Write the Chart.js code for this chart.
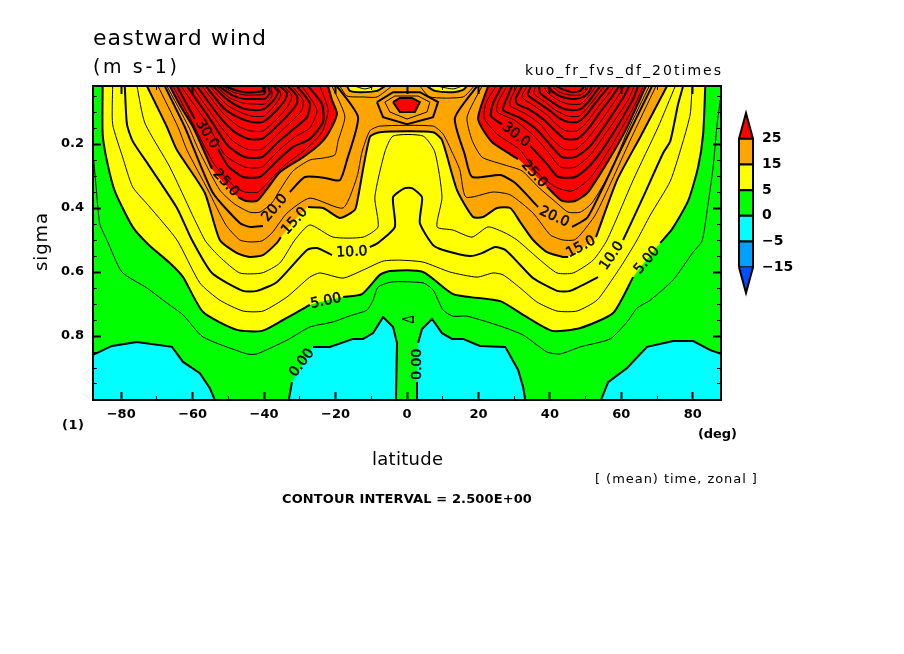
<!DOCTYPE html>
<html><head><meta charset="utf-8">
<style>html,body{margin:0;padding:0;background:#fff;overflow:hidden}
#main{position:absolute;left:0;top:0}#bar{position:absolute;left:735px;top:100px}</style>
<script src="https://cdn.jsdelivr.net/npm/chart.js@4"></script></head>
<body><canvas id="main" width="904" height="654"></canvas><canvas id="bar" width="75" height="210"></canvas>
<script>
// axes
const latMin=-87.9, latMax=87.9, sigmaTop=0.01875, sigmaBottom=1.0;
const latMajor=[-80,-60,-40,-20,0,20,40,60,80];
const latLabels=['−80','−60','−40','−20','0','20','40','60','80'];
const latMinor=[-70,-50,-30,-10,10,30,50,70];
const sigmaMajor=[0.2,0.4,0.6,0.8];
const sigmaLabels=['0.2','0.4','0.6','0.8'];
const sigmaMinor=[0.05,0.1,0.15,0.25,0.3,0.35,0.45,0.5,0.55,0.65,0.7,0.75,0.85,0.9,0.95];
// colour key
const keyColors=['#0050ff','#00a0ff','#00ffff','#00ff00','#ffff00','#ffa500','#ff0000'];
const keyLabels=['','−15','−5','0','5','15','25',''];
// contours: [latitude, sigma]; null = break for an inline label
const c0a=[[-87.9,.859],[-82.6,.831],[-75.6,.819],[-65.8,.834],[-62.7,.881],[-58,.916],[-55.2,.963],[-53.8,1]];
const c0b=[[-33.1,1],[-32.2,.944],null,[-26.3,.834],[-21.6,.834],[-15.1,.809],[-12.3,.809],[-9.5,.791],[-6.7,.741],[-3.9,.772],[-2.8,.822],[-3.1,1]];
const c0c=[[2.8,1],[2.8,.944],null,[3.1,.822],[4.2,.778],[7,.747],[9.8,.791],[12.6,.809],[15.7,.809],[20.4,.831],[27.5,.834],[31.1,.906],[32.5,.959],[33.1,1]];
const c0d=[[54.3,1],[56.3,.944],[61.6,.9],[67.2,.834],[74.5,.816],[80.1,.816],[84.9,.844],[87.9,.856]];
const c2t=[[-1.4,.747],[1.7,.738],[1.7,.759],[-1.4,.747]];
const c2=[[-87.7,.25],[-87.1,.325],[-86,.45],[-84,.5],[-79.8,.6],[-72.8,.65],[-67.2,.697],[-62.7,.734],[-57.1,.803],[-44.8,.856],[-42,.856],[-33.6,.813],[-27.2,.772],[-20.7,.756],[-16,.737],[-11.2,.719],[-9.5,.688],[-8.1,.647],[-4.2,.631],[4.5,.634],[7.3,.656],[10.1,.719],[12.9,.738],[16.8,.738],[26.1,.769],[32.5,.797],[39.2,.85],[42.9,.856],[48.5,.834],[56.9,.809],[61.6,.756],[64.4,.713],[68.1,.688],[74.5,.625],[80.1,.538],[82.6,.503],[84,.409],[85.7,.272],[86.8,.138],[87.7,.063]];
const c5=[[-85.2,.019],[-85.2,.169],[-84,.253],[-81.8,.347],[-76.8,.459],[-72.5,.513],[-66.4,.572],[-62.7,.616],[-57.1,.725],[-47.6,.781],[-40.6,.784],[-34.7,.75],[-27.2,.703],null,[-17.9,.678],[-12.6,.669],[-7.6,.609],[-4.8,.597],[4.5,.6],[12.9,.669],[26.1,.691],[32.5,.734],[40.6,.784],[48.5,.775],[57.7,.728],[63.3,.616],null,[70.9,.509],[74.2,.466],[78.7,.378],[81.5,.272],[82.9,.169],[83.5,.019]];
const c7=[[-82.4,.019],[-82.4,.138],[-79.6,.241],[-76.8,.334],[-72,.397],[-64.4,.5],[-58,.634],[-52.4,.688],[-45.9,.722],[-40.3,.722],[-33.6,.678],[-27.2,.616],[-24.4,.603],[-17.9,.619],[-12.3,.594],[-6.7,.566],[-2,.563],[4.5,.569],[12,.6],[19.6,.616],[24.1,.603],[26.9,.609],[31.7,.65],[36.4,.694],[42,.722],[47.6,.722],[53.2,.688],[57.7,.619],[60.5,.572],[64.4,.5],[68.1,.422],[73.7,.316],[77.3,.191],[79.3,.106],[79.8,.019]];
const c10=[[-79,.019],[-78.4,.138],[-76.8,.191],[-72.5,.263],[-64.4,.4],[-60.2,.5],[-54.6,.603],[-45.9,.659],[-42,.659],[-36.4,.631],[-28,.531],[-25.2,.525],[-21,.547],null,[-10.4,.522],[-8.1,.509],[-3.4,.459],[-3.9,.366],[-.6,.338],[1.4,.338],[4.2,.366],[3.6,.447],[7.3,.516],[10.1,.531],[17.6,.55],[21,.541],[24.7,.522],[27.5,.531],[31.7,.578],[35.3,.619],[42,.659],[45.7,.659],[53.5,.616],null,[60.5,.5],[66.1,.366],[71.7,.228],[73.7,.191],[75.9,.075],[77.3,.019]];
const c12=[[-75.6,.019],[-73.4,.134],[-66.4,.272],[-56.6,.5],[-52.4,.553],[-46.8,.603],[-40.6,.603],[-35.6,.572],[-31.4,.5],[-27.2,.453],[-20.7,.491],[-12.3,.491],[-8.1,.459],[-9,.366],[-6.2,.225],[-3.9,.175],[4.5,.175],[7.8,.225],[9.8,.366],[8.4,.459],[12.9,.469],[18.2,.491],[22.7,.459],[27.5,.478],[30.8,.5],[37.3,.563],[42,.603],[46.5,.603],[52.1,.563],[56,.5],[63.3,.313],[70.3,.147],[75.1,.019]];
const c12pL=[[-14.6,.019],[-11.8,.028],[-9,.019]];
const c12pR=[[8.4,.019],[12.9,.028],[15.4,.019]];
const c15=[[-72.8,.019],[-67.2,.147],[-64.4,.219],[-56.6,.353],[-52.4,.5],[-47.6,.541],[-44,.553],[-40.3,.547],[-36.4,.509],[-35.3,.491],null,[-27.7,.397],[-23.5,.4],[-18.8,.431],[-14.6,.406],[-13.7,.366],[-10.4,.178],[-7.6,.163],[7.3,.163],[9.8,.188],[14,.344],[18.5,.428],[21.3,.428],[25.2,.4],[28.9,.4],[31.7,.444],[35.3,.5],[39.2,.538],[43.7,.553],[45.1,.553],null,[52.9,.491],[58.8,.313],[65.3,.178],[72.8,.019]];
const c15pL=[[-16.8,.019],[-16,.034],[-13.2,.038],[-8.4,.034],[-6.2,.019]];
const c15pR=[[5.6,.019],[7.8,.034],[12.9,.038],[15.7,.031],[16.8,.019]];
const c17=[[-69.7,.019],[-64.1,.147],[-61.6,.219],[-55.7,.344],[-50.7,.453],[-46.8,.5],[-44,.506],[-40.6,.503],[-37.8,.478],[-33.6,.416],[-27.2,.369],[-17.9,.4],[-14,.303],[-12.6,.225],[-10.4,.159],[-7.6,.144],[7.3,.144],[10.1,.169],[12.6,.225],[14.8,.281],[16.5,.366],[24.1,.35],[28.9,.359],[35.3,.416],[40.1,.484],[43.7,.5],[46.8,.5],[48.5,.484],[52.7,.422],[57.4,.313],[62.5,.188],[69.7,.019]];
const c17pL=[[-18.8,.019],[-16.8,.05],[-12.3,.053],[-8.4,.053],[-4.2,.019]];
const c17pR=[[3.6,.019],[6.4,.053],[15.7,.053],[18.8,.019]];
const c20L=[[-67.8,.019],[-62.2,.147],[-59.9,.209],[-54.3,.353],[-46.8,.447],[-44,.459],[-40.3,.456],null,[-32.8,.35],[-28.6,.303],[-23,.306],[-18.8,.313],[-16.8,.25],[-13.7,.116],[-19.6,.019]];
const c20R=[[19.6,.019],[13.4,.119],[16.2,.234],[18.2,.303],[26.1,.297],[30.3,.322],[36.7,.397],null,[46.2,.459],[50.4,.431],[54.1,.353],[59.8,.219],[68.6,.019]];
const c20H=[[-8.4,.069],[-6.7,.116],[0,.138],[7.3,.116],[8.7,.069],[3.6,.038],[-3.9,.038],[-8.4,.069]];
const c22L=[[-67.2,.019],[-61.1,.147],[-58.3,.219],[-52.4,.344],[-48.2,.388],[-44,.413],[-41.2,.413],[-37.8,.384],[-35.6,.344],[-31.9,.284],[-27.2,.25],[-23.5,.244],[-20.2,.234],[-19.3,.191],[-17.4,.113],[-21,.019]];
const c22R=[[21,.019],[16.8,.116],[18.2,.188],[21,.241],[26.6,.263],[32.2,.284],[36.7,.334],[42.3,.388],[45.1,.413],[48.5,.413],[51.8,.384],[56.9,.288],[61.9,.156],[67.8,.019]];
const c22H=[[-6.2,.069],[-4.8,.1],[0,.122],[5.6,.1],[6.4,.069],[3.1,.05],[-3.4,.05],[-6.2,.069]];
const c25L=[[-66.4,.019],[-63.3,.084],[-59.9,.147],[-54.6,.278],null,[-47.3,.366],[-45.1,.378],[-42,.378],[-39.2,.341],[-35.6,.288],[-29.1,.241],[-24.4,.2],[-22.1,.169],[-19.6,.106],[-21,.063],[-22.1,.019]];
const c25R=[[22.7,.019],[19.9,.122],[23.8,.194],[31.1,.247],null,[39.2,.334],[43.4,.378],[47.1,.378],[50.7,.35],[56.3,.253],[61.1,.159],[66.9,.019]];
const c25H=[[-3.9,.069],[-2,.1],[2.2,.1],[3.6,.069],[1.4,.056],[-2,.056],[-3.9,.069]];
const c27L=[[-65.5,.019],[-60.2,.131],[-53.8,.266],[-48.2,.334],[-45.4,.35],[-41.7,.35],[-38.4,.313],[-34.2,.266],[-28.6,.219],[-23.8,.163],[-22.1,.094],[-24.4,.019]];
const c30L=[[-64.4,.019],[-59.4,.122],null,[-52.9,.216],[-50.1,.269],[-45.9,.303],[-41.2,.303],[-36.4,.253],[-31.9,.209],[-27.2,.184],[-23.5,.131],[-23.8,.075],[-27.7,.019]];
const c32L=[[-63.3,.019],[-55.7,.14],[-51,.234],[-45.4,.272],[-40.6,.272],[-36.4,.225],[-31.4,.178],[-27.2,.15],[-25.2,.094],[-29.4,.019]];
const c35L=[[-61.6,.019],[-54.6,.131],[-50.1,.206],[-45.4,.241],[-40.6,.241],[-36.1,.194],[-31.4,.15],[-28,.116],[-27.2,.072],[-30.8,.019]];
const c37L=[[-60.2,.019],[-53.5,.125],[-49,.188],[-44.8,.216],[-40.6,.216],[-36.1,.169],[-31.9,.125],[-29.4,.094],[-29.1,.063],[-32.2,.019]];
const c40L=[[-58.8,.019],[-52.4,.116],[-48.2,.163],[-44.5,.184],[-40.6,.184],[-36.4,.144],[-32.8,.103],[-30.8,.072],[-30.8,.05],[-33.3,.019]];
const c42L=[[-57.4,.019],[-51.8,.1],[-47.3,.144],[-44,.159],[-40.3,.159],[-36.4,.122],[-33.3,.081],[-32.2,.05],[-34.5,.019]];
const c45L=[[-56.3,.019],[-51.3,.088],[-46.8,.119],[-43.4,.131],[-40.3,.131],[-36.7,.097],[-34.2,.063],[-33.6,.041],[-35.6,.019]];
const c47L=[[-55.2,.019],[-50.4,.078],[-46.2,.103],[-43.4,.113],[-40.1,.113],[-37,.078],[-35.3,.047],[-36.4,.019]];
const c50L=[[-54.3,.019],[-50.1,.063],[-46.2,.088],[-42.9,.094],[-40.1,.091],[-37.3,.063],[-36.1,.038],[-37.3,.019]];
const c52L=[[-53.5,.019],[-49.6,.056],[-45.9,.072],[-42.6,.075],[-39.8,.075],[-37.8,.05],[-38.1,.019]];
const c55L=[[-52.7,.019],[-49,.047],[-45.7,.059],[-42.6,.059],[-39.8,.059],[-38.4,.041],[-38.9,.019]];
const c57L=[[-51.8,.019],[-48.7,.038],[-45.4,.047],[-42.6,.047],[-39.8,.044],[-39.5,.019]];
const c60L=[[-51,.019],[-48.2,.031],[-45.4,.038],[-42.6,.038],[-40.3,.034],[-40.3,.019]];
const c27R=[[24.9,.019],[22.1,.072],[21.6,.119],[25.2,.169],[31.7,.219],[35.9,.284],[41.5,.334],[46.2,.347],[51.3,.306],[57.4,.203],[63.9,.075],[66.1,.019]];
const c30R=[[26.6,.019],[24.1,.072],[23.5,.113],[26.6,.138],null,[34.5,.206],[39.2,.263],[42.3,.303],[47.1,.303],[51.3,.266],[56.3,.191],[63,.066],[64.7,.019]];
const c32R=[[28,.019],[25.5,.069],[25.2,.1],[30,.125],[35.3,.172],[39.5,.225],[42.9,.272],[47.1,.272],[51.3,.234],[56.3,.156],[61.9,.063],[63.6,.019]];
const c35R=[[29.4,.019],[27.5,.069],[26.9,.094],[31.7,.119],[36.4,.156],[40.1,.203],[43.4,.241],[47.1,.241],[51.3,.206],[55.5,.141],[60.8,.05],[62.2,.019]];
const c37R=[[30.8,.019],[28.9,.063],[28.9,.081],[33.3,.106],[37.3,.138],[40.6,.184],[44,.216],[47.3,.216],[50.7,.181],[54.9,.119],[59.1,.05],[60.8,.019]];
const c40R=[[32.2,.019],[30.5,.056],[30.8,.075],[34.5,.094],[38.4,.125],[41.5,.159],[44.2,.184],[47.6,.184],[50.7,.153],[54.1,.1],[57.7,.047],[59.4,.019]];
const c42R=[[33.6,.019],[32.2,.053],[35.6,.081],[39.2,.109],[42,.141],[44.5,.159],[47.6,.159],[50.4,.131],[53.5,.084],[56.6,.041],[58,.019]];
const c45R=[[34.7,.019],[33.9,.047],[37.3,.075],[40.1,.097],[42.6,.119],[45.1,.131],[47.9,.131],[50.4,.106],[52.9,.069],[55.5,.034],[56.6,.019]];
const c47R=[[35.9,.019],[35.6,.044],[38.7,.069],[41.5,.094],[45.1,.113],[48.2,.113],[50.4,.088],[52.7,.056],[55.2,.019]];
const c50R=[[37,.019],[37.3,.041],[40.6,.069],[43.4,.088],[45.7,.094],[48.5,.091],[50.7,.069],[52.4,.044],[54.1,.019]];
const c52R=[[38.4,.019],[39.2,.038],[42.3,.063],[45.1,.075],[48.5,.075],[50.7,.053],[52.9,.019]];
const c55R=[[39.5,.019],[40.9,.038],[43.4,.053],[46.2,.059],[48.7,.056],[50.7,.041],[51.8,.019]];
const c57R=[[40.6,.019],[42.6,.038],[45.7,.047],[48.5,.047],[50.1,.034],[50.7,.019]];
const c60R=[[41.7,.019],[44,.031],[46.2,.038],[48.5,.034],[49.6,.019]];
// inline contour labels
const labelTexts=['30.0','25.0','20.0','15.0','10.0','5.00','0.00','0.00','30.0','25.0','20.0','15.0','10.0','5.00'];
const labelLats=[-56,-50.7,-37,-31.4,-15.4,-22.7,-29.4,2.8,30.5,35.6,41.2,48.7,57.4,67.2];
const labelSigmas=[.169,.322,.4,.441,.538,.691,.884,.888,.172,.294,.428,.522,.55,.563];
const labelAngles=[58,47,-50,-48,-3,-12,-53,-90,38,48,25,-28,-55,-50];

const FONT='"DejaVu Sans"';
const SMOOTH=0.2;
const toXY=a=>a.map(p=>p?{x:p[0],y:p[1]}:{x:null,y:null});
const noGap=a=>a.filter(Boolean);
// outlines kept angular; everything else is lightly rounded, in fill and line alike
const angular=[c0a,c0b,c0c,c0d,c2t,c20H,c22H,c25H];
const tensionOf=a=>angular.includes(a)?0:SMOOTH;
// [colour, polygon, tension] painted bottom-up
const fills=[
 ['#00ff00',[[latMin,sigmaTop],[latMax,sigmaTop],[latMax,sigmaBottom],[latMin,sigmaBottom]],0],
 ['#00ffff',[...c0a,[latMin,sigmaBottom]],0],['#00ffff',c0b,0],['#00ffff',c0c,0],['#00ffff',[...c0d,[latMax,sigmaBottom]],0],
 ['#ffff00',c5,SMOOTH],
 ['#ffa500',c15,SMOOTH],
 ['#ffff00',c15pL,SMOOTH],['#ffff00',c15pR,SMOOTH],
 ['#ff0000',c25L,SMOOTH],['#ff0000',c25R,SMOOTH],['#ff0000',c25H,0]
];
const thin=[c2t,c2,c7,c12,c12pL,c12pR,c17,c17pL,c17pR,c22L,c22R,c22H,c27L,c32L,c37L,c42L,c47L,c52L,c57L,c27R,c32R,c37R,c42R,c47R,c52R,c57R];
const thick=[c0a,c0b,c0c,c0d,c5,c10,c15,c15pL,c15pR,c20L,c20R,c20H,c25L,c25R,c25H,c30L,c35L,c40L,c45L,c50L,c55L,c60L,c30R,c35R,c40R,c45R,c50R,c55R,c60R];
const datasets=[];
fills.forEach((f,i)=>datasets.push({data:toXY(noGap(f[1])),showLine:true,fill:'shape',backgroundColor:f[0],borderWidth:0,pointRadius:0,tension:f[2],order:1000-i}));
thin.forEach(a=>datasets.push({data:toXY(a),showLine:true,fill:false,borderColor:'#000',borderWidth:1,pointRadius:0,tension:tensionOf(a),order:2}));
thick.forEach(a=>datasets.push({data:toXY(a),showLine:true,fill:false,borderColor:'#000',borderWidth:2,pointRadius:0,tension:tensionOf(a),order:1}));

function axis(pos,vals,len,tw,opts){
  const horizontal=pos==='top'||pos==='bottom';
  const o=Object.assign({labels:null,border:false,size:0,pad:0,weight:0},opts||{});
  return {type:'linear',position:pos,weight:o.weight,
    min:horizontal?latMin:sigmaTop,max:horizontal?latMax:sigmaBottom,reverse:!horizontal,
    afterBuildTicks:s=>{s.ticks=vals.map(v=>({value:v}));},
    afterFit:s=>{if(horizontal)s.height=o.size;else s.width=o.size;},
    grid:{drawOnChartArea:false,drawTicks:true,tickLength:-len,tickWidth:tw,tickColor:'#000',z:3},
    border:{display:o.border,color:'#000',width:2,z:3},
    ticks:{display:!!o.labels,autoSkip:false,maxRotation:0,minRotation:0,padding:o.pad,color:'#000',
      font:{family:FONT,size:13,weight:'bold'},
      callback:v=>{const i=vals.findIndex(q=>Math.abs(q-v)<1e-6);return o.labels&&i>=0?o.labels[i]:'';}}
  };
}
const pageTexts=[
 {t:'eastward wind',x:93,y:45,w:173,f:'22px'},
 {t:'(m s-1)',x:93,y:73,w:84,f:'19px'},
 {t:'kuo_fr_fvs_df_20times',x:525,y:75,w:196,f:'14px'},
 {t:'sigma',x:47,y:271,w:58,f:'18px',r:-90},
 {t:'latitude',x:372,y:465,w:71,f:'18px'},
 {t:'(1)',x:62,y:429,w:22,f:'bold 13px'},
 {t:'(deg)',x:698,y:438,w:39,f:'bold 13px'},
 {t:'[ (mean) time, zonal ]',x:595,y:483,w:162,f:'13px'},
 {t:'CONTOUR INTERVAL = 2.500E+00',x:282,y:503,w:250,f:'bold 13px'}
];
const textPlugin={id:'texts',afterDraw(chart){
  const c=chart.ctx,X=chart.scales.x,Y=chart.scales.y;
  c.save();c.fillStyle='#000';
  labelTexts.forEach((t,i)=>{
    c.save();c.translate(X.getPixelForValue(labelLats[i]),Y.getPixelForValue(labelSigmas[i]));
    c.rotate(labelAngles[i]*Math.PI/180);c.font='14px '+FONT;c.textAlign='center';c.textBaseline='middle';
    c.fillText(t,0,0);c.strokeStyle='#000';c.lineWidth=.5;c.strokeText(t,0,0);c.restore();
  });
  pageTexts.forEach(p=>{
    c.save();c.font=p.f+' '+FONT;c.textAlign='left';c.textBaseline='alphabetic';
    c.letterSpacing='0px';
    const m=c.measureText(p.t).width;
    c.letterSpacing=((p.w-m)/(p.t.length-1)).toFixed(2)+'px';
    c.translate(p.x,p.y);if(p.r)c.rotate(p.r*Math.PI/180);
    c.fillText(p.t,0,0);c.restore();
  });
  c.restore();
}};
new Chart(document.getElementById('main'),{type:'scatter',data:{datasets},plugins:[textPlugin],options:{
  responsive:false,animation:false,events:[],
  layout:{padding:{left:0,top:86,right:183,bottom:0}},
  plugins:{legend:{display:false},tooltip:{enabled:false},title:{display:false}},
  scales:{
    x:axis('bottom',latMajor,8,2,{labels:latLabels,border:true,size:254,pad:15,weight:1}),
    xm:axis('bottom',latMinor,4,1),
    xt:axis('top',latMajor,8,2,{border:true}),
    xtm:axis('top',latMinor,4,1),
    y:axis('left',sigmaMajor,8,2,{labels:sigmaLabels,border:true,size:93,pad:17,weight:1}),
    ym:axis('left',sigmaMinor,4,1),
    yr:axis('right',sigmaMajor,8,2,{border:true}),
    yrm:axis('right',sigmaMinor,4,1)
  }
}});
// colour key: a small chart of its own, in level-index space
const keyData=keyColors.map((col,i)=>{
  const poly=i===0?[[0,1],[.5,0],[1,1]]:i===keyColors.length-1?[[0,i],[.5,i+1],[1,i]]:[[0,i],[1,i],[1,i+1],[0,i+1],[0,i]];
  return {data:toXY(poly),showLine:true,fill:'shape',backgroundColor:col,borderColor:'#000',borderWidth:2,pointRadius:0,clip:false};
});
new Chart(document.getElementById('bar'),{type:'scatter',data:{datasets:keyData},options:{
  responsive:false,animation:false,events:[],
  layout:{padding:{left:4,top:13,right:0,bottom:17}},
  plugins:{legend:{display:false},tooltip:{enabled:false}},
  scales:{
    x:{type:'linear',display:false,min:0,max:1},
    y:{type:'linear',position:'right',min:0,max:7,afterFit:s=>{s.width=57;s.paddingTop=0;s.paddingBottom=0;},
       grid:{display:false,drawTicks:false},border:{display:false},
       ticks:{stepSize:1,autoSkip:false,padding:9,color:'#000',font:{family:FONT,size:14,weight:'bold'},callback:v=>keyLabels[v]||''}}
  }
}});
</script></body></html>
